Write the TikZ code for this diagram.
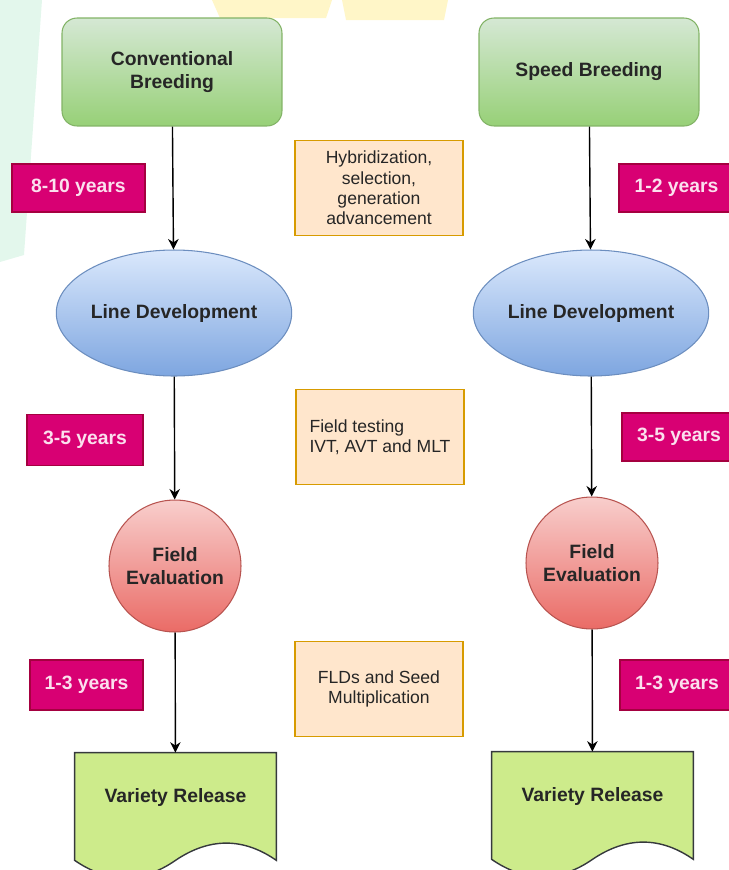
\documentclass[tikz,border=0pt]{standalone}
\usepackage{fontspec}
\setmainfont{Liberation Sans}
\usepackage{tikz}
\usetikzlibrary{positioning, shapes, calc, arrows.meta}
\definecolor{boxgreen}{HTML}{97D077}
\definecolor{boxgreenlt}{HTML}{D5E8D4}
\definecolor{boxgreenln}{HTML}{82B366}
\definecolor{ellblue}{HTML}{7EA6E0}
\definecolor{ellbluelt}{HTML}{DAE8FC}
\definecolor{ellblueln}{HTML}{6C8EBF}
\definecolor{circred}{HTML}{EA6B66}
\definecolor{circredlt}{HTML}{F8CECC}
\definecolor{circredln}{HTML}{B85450}
\definecolor{notefill}{HTML}{FFE6CC}
\definecolor{noteline}{HTML}{D79B00}
\definecolor{yearfill}{HTML}{D80073}
\definecolor{yearline}{HTML}{A50040}
\definecolor{yeartext}{HTML}{FBE0EE}
\definecolor{docfill}{HTML}{CDEB8B}
\definecolor{docline}{HTML}{36393D}
\definecolor{darktext}{HTML}{262626}
\definecolor{wmgreen}{HTML}{E3F7EC}
\definecolor{wmyellow}{HTML}{FFF6C8}

%% wavy document outline round a node
\newcommand{\docwave}[1]{%
  \draw[docline, fill=docfill, line width=0.8pt] (#1.north west) -- (#1.north east)
    -- ($(#1.south east)+(0,19)$)
    .. controls ($(#1.south east)+(-33,-4)$) and ($(#1.south)+(34,-4)$) .. ($(#1.south)+(0,19)$)
    .. controls ($(#1.south)+(-33,42)$) and ($(#1.south west)+(33,42)$) .. ($(#1.south west)+(0,19)$)
    -- cycle;}

\begin{document}
\begin{tikzpicture}[x=0.02cm, y=-0.02cm,
  every node/.style={font=\fontsize{11}{13.5}\selectfont\bfseries, text=darktext, align=center},
  startbox/.style={draw=boxgreenln, top color=boxgreenlt, bottom color=boxgreen, rounded corners=0.3cm,
    minimum width=4.4cm, minimum height=2.16cm, line width=0.6pt},
  linebox/.style={ellipse, draw=ellblueln, top color=ellbluelt, bottom color=ellblue,
    minimum width=3.96cm, minimum height=2.52cm, inner sep=0pt, line width=0.6pt},
  evalbox/.style={circle, draw=circredln, top color=circredlt, bottom color=circred,
    minimum size=2.64cm, inner sep=0pt, line width=0.6pt},
  notebox/.style={draw=noteline, fill=notefill, minimum width=3.36cm, minimum height=1.9cm,
    font=\fontsize{10}{11.5}\selectfont, line width=0.6pt},
  yearbox/.style={draw=yearline, fill=yearfill, text=yeartext, minimum height=0.96cm, line width=0.6pt},
  docbox/.style={minimum width=4.02cm, minimum height=1.76cm, inner sep=0pt},
  flow/.style={-{Stealth[length=6pt, width=6pt]}, line width=0.8pt, black}]
  \useasboundingbox (0,0) rectangle (729,870);
  \clip (0,0) rectangle (729,870);

  %% faint watermark behind the chart
  \fill[wmgreen] (0,0) -- (42,0) -- (24,255) -- (0,262) -- cycle;
  \fill[wmyellow] (212,0) -- (332,0) -- (326,18) -- (220,18) -- cycle;
  \fill[wmyellow] (342,0) -- (448,0) -- (444,20) -- (346,20) -- cycle;

  %% left column: conventional breeding
  \node[startbox] (conv) at (172,72) {Conventional\\Breeding};
  \node[linebox] (lineL) at (174,313) {Line Development};
  \node[evalbox] (evalL) at (175,566) {Field\\Evaluation};
  \node[docbox] (relL) at (175.5,797) {};
  \docwave{relL}
  \node at (relL) {Variety Release};

  %% right column: speed breeding
  \node[startbox] (speed) at (589,72) {Speed Breeding};
  \node[linebox] (lineR) at (591,313) {Line Development};
  \node[evalbox] (evalR) at (592,563) {Field\\Evaluation};
  \node[docbox] (relR) at (592.5,796) {};
  \docwave{relR}
  \node at (relR) {Variety Release};

  %% middle notes
  \node[notebox] (hybr) at (379,188) {Hybridization,\\selection,\\generation\\advancement};
  \node[notebox, align=left] (test) at (380,437) {Field testing\\IVT, AVT and MLT};
  \node[notebox] (mult) at (379,689) {FLDs and Seed\\Multiplication};

  %% time spans
  \node[yearbox, minimum width=2.66cm] (yrA) at (78.5,188) {8-10 years};
  \node[yearbox, minimum width=2.32cm, minimum height=1.02cm] (yrB) at (85,440) {3-5 years};
  \node[yearbox, minimum width=2.26cm, minimum height=1cm] (yrC) at (86.5,685) {1-3 years};
  \node[yearbox, minimum width=2.3cm] (yrD) at (676.5,188) {1-2 years};
  \node[yearbox, minimum width=2.28cm] (yrE) at (679,437) {3-5 years};
  \node[yearbox, minimum width=2.28cm, minimum height=1cm] (yrF) at (677,685) {1-3 years};

  %% arrows
  \draw[flow] (conv) -- (lineL);
  \draw[flow] (lineL) -- (evalL);
  \draw[flow] (evalL) -- (relL);
  \draw[flow] (speed) -- (lineR);
  \draw[flow] (lineR) -- (evalR);
  \draw[flow] (evalR) -- (relR);
\end{tikzpicture}
\end{document}
